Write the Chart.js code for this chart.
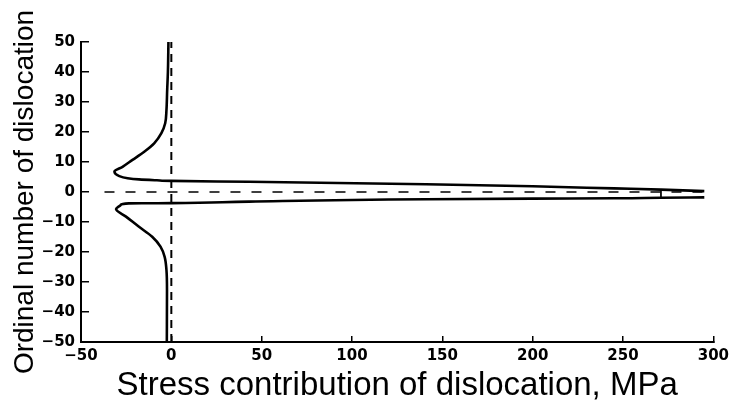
<!DOCTYPE html>
<html>
<head>
<meta charset="utf-8">
<script src="https://cdn.jsdelivr.net/npm/chart.js@4.4.0/dist/chart.umd.min.js"></script>
<style>
  html, body { margin: 0; padding: 0; background: #fff; }
  #wrap { width: 740px; height: 402px; }
</style>
</head>
<body>
<div id="wrap"><canvas id="pileupChart" width="740" height="402"></canvas></div>
<script>
// upper branch (positive ordinal numbers)
const upperStress  = [-1.6, -1.9, -2.3, -2.7, -3.4, -5.5, -9.5, -15.0, -21.5, -27.0, -31.5, -28.8, -24.2, -17.9, -8.0, 0.0, 43.0, 141.0, 200.0, 245.0, 271.0, 295.0];
const upperOrdinal = [50, 40, 34, 27.3, 22.9, 19.6, 16.2, 13.4, 10.7, 8.4, 6.8, 5.3, 4.6, 4.2, 3.9, 3.7, 3.4, 2.6, 1.9, 1.2, 0.8, 0.3];

// lower branch (negative ordinal numbers)
const lowerStress  = [-2.5, -2.4, -2.7, -3.7, -6.0, -10.6, -17.9, -25.1, -30.6, -28.0, -23.5, -12.0, 0.0, 43.0, 141.0, 200.0, 245.0, 271.0, 295.0];
const lowerOrdinal = [-50, -32.7, -26, -21.6, -18.2, -14.9, -11.6, -8.2, -5.7, -4.3, -3.8, -3.75, -3.7, -3.2, -2.4, -2.2, -2.1, -1.9, -1.8];

// dashed reference lines through zero
const zeroVertStress = [0, 0];
const zeroVertOrdinal = [-50, 50];
const zeroHorizStress = [-37, 296];
const zeroHorizOrdinal = [0, 0];

// closing bar near the tail
const capStress = [271, 271];
const capOrdinal = [0.8, -1.9];

const xTicks = [-50, 0, 50, 100, 150, 200, 250, 300];
const yTicks = [-50, -40, -30, -20, -10, 0, 10, 20, 30, 40, 50];

function toPoints(xs, ys) {
    return xs.map((x, i) => ({ x: x, y: ys[i] }));
}

const tickFont = { family: 'DejaVu Sans', size: 15, weight: 'bold' };

// stress is drawn as a function of the ordinal number, so the curves
// are smoothed along y
new Chart(document.getElementById('pileupChart'), {
    type: 'line',
    data: {
        datasets: [
            {
                data: toPoints(upperStress, upperOrdinal),
                borderColor: '#000',
                borderWidth: 2.6,
                pointRadius: 0,
                cubicInterpolationMode: 'monotone'
            },
            {
                data: toPoints(lowerStress, lowerOrdinal),
                borderColor: '#000',
                borderWidth: 2.6,
                pointRadius: 0,
                cubicInterpolationMode: 'monotone'
            },
            {
                data: toPoints(capStress, capOrdinal),
                borderColor: '#000',
                borderWidth: 1,
                pointRadius: 0
            },
            {
                data: toPoints(zeroVertStress, zeroVertOrdinal),
                borderColor: '#000',
                borderWidth: 2,
                borderDash: [8, 6],
                pointRadius: 0
            },
            {
                data: toPoints(zeroHorizStress, zeroHorizOrdinal),
                borderColor: '#000',
                borderWidth: 1.5,
                borderDash: [10, 11],
                pointRadius: 0
            }
        ]
    },
    options: {
        indexAxis: 'y',
        responsive: false,
        animation: false,
        layout: { padding: { top: 42, right: 20, left: 0, bottom: 0 } },
        plugins: {
            legend: { display: false },
            tooltip: { enabled: false }
        },
        scales: {
            x: {
                type: 'linear',
                position: 'bottom',
                min: -50,
                max: 300,
                afterBuildTicks: s => { s.ticks = xTicks.map(v => ({ value: v })); },
                afterFit: s => { s.height = 60; },
                grid: { drawOnChartArea: false, drawTicks: true, tickLength: -6, color: '#000', lineWidth: 1.5 },
                border: { display: true, color: '#000', width: 2 },
                ticks: {
                    color: '#000',
                    font: tickFont,
                    padding: 11,
                    maxRotation: 0,
                    autoSkip: false,
                    callback: v => v < 0 ? '\u2212' + (-v) : v
                },
                title: {
                    display: true,
                    text: 'Stress contribution of dislocation, MPa',
                    color: '#000',
                    font: { family: 'Liberation Sans', size: 33, lineHeight: 1 },
                    padding: { top: 0, bottom: 0 }
                }
            },
            y: {
                type: 'linear',
                position: 'left',
                min: -50,
                max: 50,
                afterBuildTicks: s => { s.ticks = yTicks.map(v => ({ value: v })); },
                afterFit: s => { s.width = 81; },
                grid: { drawOnChartArea: false, drawTicks: true, tickLength: -8, color: '#000', lineWidth: 1.5 },
                border: { display: true, color: '#000', width: 2 },
                ticks: {
                    color: '#000',
                    font: tickFont,
                    padding: 14,
                    autoSkip: false,
                    callback: v => v < 0 ? '\u2212' + (-v) : v
                },
                title: {
                    display: true,
                    text: 'Ordinal number of dislocation',
                    color: '#000',
                    font: { family: 'Liberation Sans', size: 28, lineHeight: 1 },
                    padding: { top: 11, bottom: 0 }
                }
            }
        }
    }
});
</script>
</body>
</html>
